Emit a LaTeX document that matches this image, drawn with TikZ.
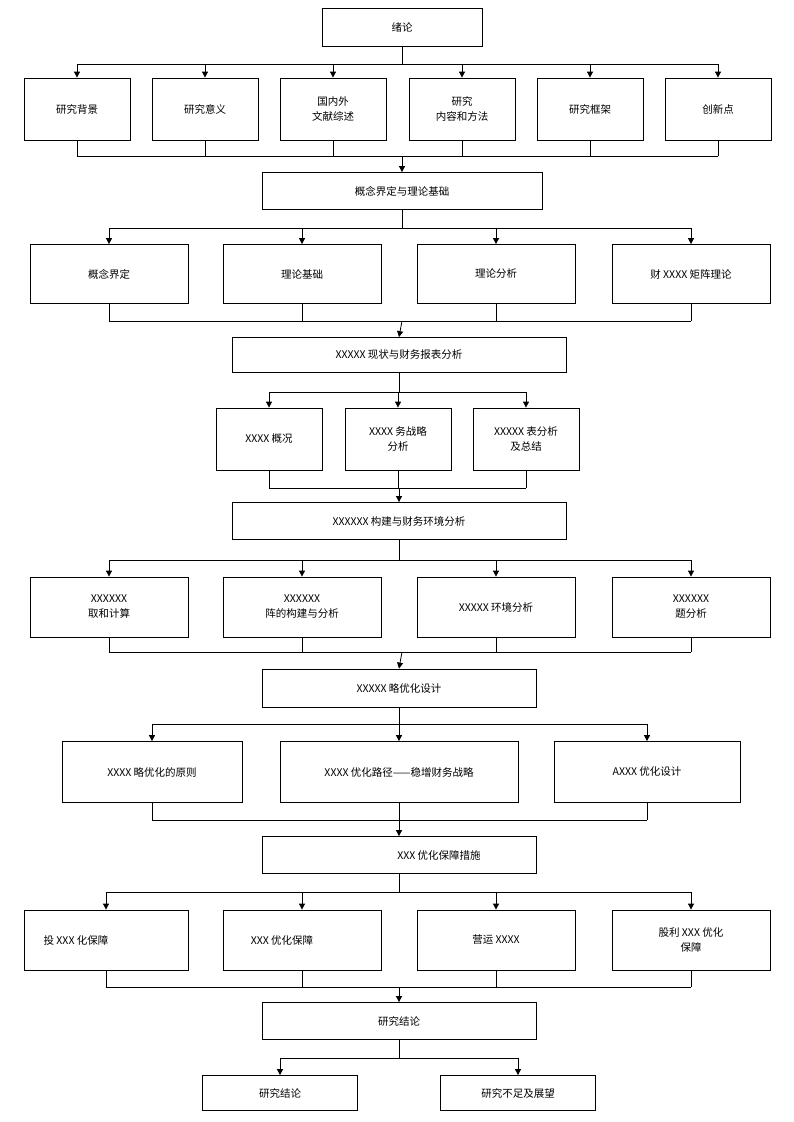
\documentclass[tikz,border=0pt]{standalone}
\usepackage{fontspec}
\setmainfont{Noto Sans CJK SC}
\usetikzlibrary{arrows.meta}
\tikzset{
  box/.style={draw, line width=0.8pt, align=center, inner sep=1pt, font=\fontsize{10.5}{15}\selectfont},
  ln/.style={line width=0.8pt},
  arr/.style={line width=0.8pt, -{Triangle[length=6pt,width=6pt]}},
}
% fan out from a parent to children, tie children back into a junction
\newcommand{\fanout}[3]{% parent, list of children, y of bar
  \coordinate (bar) at (0,#3);
  \draw[ln] (#1.south) -- (#1.south|-bar);
  \foreach \c [count=\i] in {#2} {
    \draw[arr] (\c.north|-bar) -- (\c.north);
  }
}
\newcommand{\fanin}[4]{% first, last, list of children, junction
  \foreach \c in {#3} {
    \draw[ln] (\c.south) -- (\c.south|-#4);
  }
  \draw[ln] (#1.south|-#4) -- (#2.south|-#4);
}
\begin{document}
\begin{tikzpicture}[x=1pt,y=-1pt]
\useasboundingbox (0,0) rectangle (793,1122);
% level 0
\node[box, minimum width=160pt, minimum height=38pt] (xl) at (402,27) {绪论};
\foreach \n/\x/\t in {bj/77/研究背景, yy/205/研究意义, wx/333/国内外\\文献综述, nr/462/研究\\内容和方法, kj/590/研究框架, cx/718/创新点}
  \node[box, minimum width=106pt, minimum height=62pt] (\n) at (\x,109) {\t};
\draw[ln] (bj.north|-0,64) -- (cx.north|-0,64);
\fanout{xl}{bj,yy,wx,nr,kj,cx}{64}
\coordinate (j1) at (402,156);
\fanin{bj}{cx}{bj,yy,wx,nr,kj,cx}{j1}
% level 1
\node[box, minimum width=280pt, minimum height=37pt] (gn) at (402,191) {概念界定与理论基础};
\draw[arr] (j1) -- (gn.north);
\foreach \n/\x/\t in {jd/109/概念界定, jc/302/理论基础, fx/496/理论分析, jz/691/财 XXXX 矩阵理论}
  \node[box, minimum width=158pt, minimum height=59pt] (\n) at (\x,274) {\t};
\draw[ln] (jd.north|-0,228) -- (jz.north|-0,228);
\fanout{gn}{jd,jc,fx,jz}{228}
\coordinate (j2) at (402,321);
\fanin{jd}{jz}{jd,jc,fx,jz}{j2}
% level 2
\node[box, minimum width=334pt, minimum height=35pt] (xz) at (399,355) {XXXXX 现状与财务报表分析};
\draw[arr] (j2) -- (xz.north);
\foreach \n/\x/\t in {gk/269/XXXX 概况, zl/398/XXXX 务战略\\分析, bb/526/XXXXX 表分析\\及总结}
  \node[box, minimum width=106pt, minimum height=62pt] (\n) at (\x,439) {\t};
\draw[ln] (gk.north|-0,392) -- (bb.north|-0,392);
\fanout{xz}{gk,zl,bb}{392}
\coordinate (j3) at (399,488);
\fanin{gk}{bb}{gk,zl,bb}{j3}
% level 3
\node[box, minimum width=334pt, minimum height=37pt] (gj) at (399,521) {XXXXXX 构建与财务环境分析};
\draw[arr] (j3) -- (gj.north);
\foreach \n/\x/\t in {js/109/XXXXXX\\取和计算, jg/302/XXXXXX\\阵的构建与分析, hj/496/XXXXX 环境分析, wt/691/XXXXXX\\题分析}
  \node[box, minimum width=158pt, minimum height=60pt] (\n) at (\x,607) {\t};
\draw[ln] (js.north|-0,560) -- (wt.north|-0,560);
\fanout{gj}{js,jg,hj,wt}{560}
\coordinate (j4) at (402,652);
\fanin{js}{wt}{js,jg,hj,wt}{j4}
% level 4
\node[box, minimum width=274pt, minimum height=38pt] (yh) at (399,688) {XXXXX 略优化设计};
\draw[arr] (j4) -- (yh.north);
\node[box, minimum width=180pt, minimum height=61pt] (yz) at (152,772) {XXXX 略优化的原则};
\node[box, minimum width=238pt, minimum height=61pt] (lj) at (399,772) {XXXX 优化路径——稳增财务战略};
\node[box, minimum width=186pt, minimum height=61pt] (sj) at (647,772) {AXXX 优化设计};
\draw[ln] (yz.north|-0,724) -- (sj.north|-0,724);
\fanout{yh}{yz,lj,sj}{724}
\coordinate (j5) at (399,820);
\fanin{yz}{sj}{yz,lj,sj}{j5}
% level 5
\node[box, minimum width=274pt, minimum height=37pt] (bz) at (399,855) {\hspace*{80pt}XXX 优化保障措施};
\draw[arr] (j5) -- (bz.north);
\node[box, minimum width=164pt, minimum height=60pt] (tz) at (106,940) {投 XXX 化保障\hspace*{60pt}};
\node[box, minimum width=158pt, minimum height=60pt] (yb) at (302,940) {XXX 优化保障\hspace*{40pt}};
\node[box, minimum width=158pt, minimum height=60pt] (yy2) at (496,940) {营运 XXXX};
\node[box, minimum width=158pt, minimum height=60pt] (gl) at (691,940) {股利 XXX 优化\\保障};
\draw[ln] (tz.north|-0,892) -- (gl.north|-0,892);
\fanout{bz}{tz,yb,yy2,gl}{892}
\coordinate (j6) at (399,987);
\fanin{tz}{gl}{tz,yb,yy2,gl}{j6}
% level 6
\node[box, minimum width=274pt, minimum height=37pt] (jl) at (399,1021) {研究结论};
\draw[arr] (j6) -- (jl.north);
\node[box, minimum width=155pt, minimum height=35pt] (jl2) at (280,1093) {研究结论};
\node[box, minimum width=155pt, minimum height=35pt] (zw) at (518,1093) {研究不足及展望};
\draw[ln] (jl2.north|-0,1058) -- (zw.north|-0,1058);
\fanout{jl}{jl2,zw}{1058}
\end{tikzpicture}
\end{document}
